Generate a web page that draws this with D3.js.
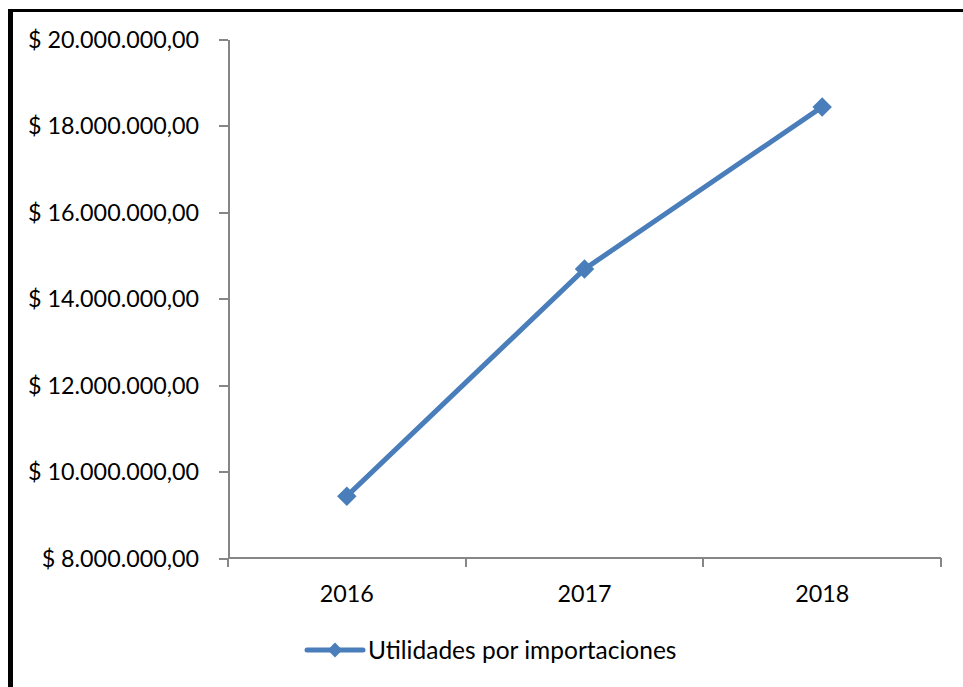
<!DOCTYPE html>
<html>
<head>
<meta charset="utf-8">
<script src="https://cdn.jsdelivr.net/npm/d3@7"></script>
<style>
  body { margin: 0; background: #fff; }
  .axis path, .axis line { stroke: #868686; stroke-width: 2; shape-rendering: crispEdges; }
  .axis text { font-family: Lato, "Open Sans", sans-serif; font-size: 23.3px; fill: #000; }
  .legend-text { font-family: Lato, "Open Sans", sans-serif; font-size: 24.5px; fill: #000; }
</style>
</head>
<body>
<div id="chart"></div>
<script>
// chart data
const years = ['2016', '2017', '2018'];
const utilidades = [9430000, 14680000, 18430000];
const yTicks = [8000000, 10000000, 12000000, 14000000, 16000000, 18000000, 20000000];
const seriesName = 'Utilidades por importaciones';

const W = 963, H = 687;
const color = '#4a7ebb';

const svg = d3.select('#chart')
  .append('svg')
  .attr('width', W)
  .attr('height', H);

// frame (only left and top edges are visible in the crop)
svg.append('line')
  .attr('x1', 10.5).attr('y1', 10).attr('x2', 10.5).attr('y2', H)
  .attr('stroke', '#000').attr('stroke-width', 5);
svg.append('line')
  .attr('x1', 8).attr('y1', 10.5).attr('x2', W).attr('y2', 10.5)
  .attr('stroke', '#000').attr('stroke-width', 3);

const plot = { left: 228, right: 941, top: 39, bottom: 558 };

const x = d3.scaleBand()
  .domain(years)
  .range([plot.left, plot.right]);

const y = d3.scaleLinear()
  .domain([8000000, 20000000])
  .range([plot.bottom, plot.top]);

// format like "$ 20.000.000,00"
const es = d3.formatLocale({ decimal: ',', thousands: '.', grouping: [3], currency: ['$ ', ''] });
const fmt = es.format('$,.2f');

// y axis
const yAxis = svg.append('g')
  .attr('class', 'axis')
  .attr('transform', `translate(${plot.left},0)`)
  .call(d3.axisLeft(y).tickValues(yTicks).tickFormat(fmt).tickSize(9).tickSizeOuter(0).tickPadding(20));
yAxis.selectAll('text').attr('dy', '0.35em');

// x axis with tick marks at category boundaries
const xAxis = svg.append('g')
  .attr('class', 'axis')
  .attr('transform', `translate(0,${plot.bottom})`)
  .call(d3.axisBottom(x).tickSize(0).tickPadding(27));
xAxis.select('.domain').attr('d', `M${plot.left},0H${plot.right}`);
const bounds = years.map(d => x(d)).concat([x(years[years.length - 1]) + x.bandwidth()]);
xAxis.selectAll('.bound')
  .data(bounds)
  .enter()
  .append('line')
  .attr('class', 'bound')
  .attr('x1', d => d).attr('x2', d => d)
  .attr('y1', 0).attr('y2', 9);

// series line
const pts = years.map((d, i) => ({ year: d, value: utilidades[i] }));
const line = d3.line()
  .x(d => x(d.year) + x.bandwidth() / 2)
  .y(d => y(d.value));

svg.append('path')
  .datum(pts)
  .attr('fill', 'none')
  .attr('stroke', color)
  .attr('stroke-width', 5)
  .attr('stroke-linejoin', 'round')
  .attr('d', line);

const diamond = d3.symbol().type(d3.symbolSquare).size(190);
svg.selectAll('.marker')
  .data(pts)
  .enter()
  .append('path')
  .attr('class', 'marker')
  .attr('d', diamond)
  .attr('fill', color)
  .attr('transform', d => `translate(${x(d.year) + x.bandwidth() / 2},${y(d.value)}) rotate(45)`);

// legend
const legend = svg.append('g').attr('transform', 'translate(307,650)');
legend.append('line')
  .attr('x1', 0).attr('x2', 56).attr('y1', 0).attr('y2', 0)
  .attr('stroke', color).attr('stroke-width', 5).attr('stroke-linecap', 'round');
legend.append('path')
  .attr('d', d3.symbol().type(d3.symbolSquare).size(110))
  .attr('fill', color)
  .attr('transform', 'translate(28,0) rotate(45)');
legend.append('text')
  .attr('class', 'legend-text')
  .attr('x', 61)
  .attr('y', 0)
  .attr('dy', '0.35em')
  .text(seriesName);
</script>
</body>
</html>
